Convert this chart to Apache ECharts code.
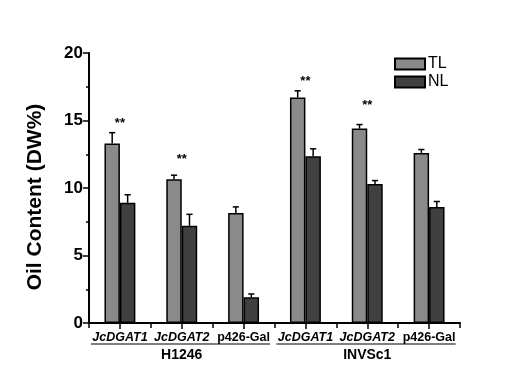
<!DOCTYPE html>
<html><head><meta charset="utf-8">
<script src="https://cdn.jsdelivr.net/npm/echarts@6/dist/echarts.min.js"></script>
<style>html,body{margin:0;padding:0;background:#fff}#c{width:505px;height:384px}</style>
</head><body><div id="c"></div>
<script>
var categories = ['JcDGAT1_a', 'JcDGAT2_a', 'p426-Gal_a', 'JcDGAT1_b', 'JcDGAT2_b', 'p426-Gal_b'];
var categoryLabels = ['JcDGAT1', 'JcDGAT2', 'p426-Gal', 'JcDGAT1', 'JcDGAT2', 'p426-Gal'];
var italicLabel = [true, true, false, true, true, false];
var strainGroups = ['H1246', 'INVSc1'];
var tlValues = [13.3, 10.65, 8.15, 16.7, 14.4, 12.6];
var tlErrors = [0.8, 0.3, 0.45, 0.5, 0.3, 0.25];
var nlValues = [8.9, 7.2, 1.9, 12.35, 10.3, 8.6];
var nlErrors = [0.6, 0.85, 0.25, 0.55, 0.25, 0.4];
var starPositions = [14.8, 12.15, null, 17.9, 16.1, null];
var yTicks = [0, 5, 10, 15, 20];

var FONT = 'Liberation Sans, Arial, sans-serif';
var chart = echarts.init(document.getElementById('c'), null, {renderer: 'canvas'});

function errorSeries(name, values, errors, side) {
  return {
    type: 'custom', name: name + '_err', silent: true, z: 5,
    data: values.map(function (v, i) { return [i, v, v + errors[i]]; }),
    renderItem: function (params, api) {
      var i = api.value(0);
      var band = api.size([1, 0])[0];
      var base = api.coord([i, api.value(1)]);
      var top = api.coord([i, api.value(2)]);
      var x = base[0] + side * band * 0.125;
      var cap = band * 0.05;
      return {
        type: 'group', children: [
          {type: 'line', shape: {x1: x, y1: base[1], x2: x, y2: top[1]}, style: {stroke: '#000', lineWidth: 1.5}},
          {type: 'line', shape: {x1: x - cap, y1: top[1], x2: x + cap, y2: top[1]}, style: {stroke: '#000', lineWidth: 1.5}}
        ]
      };
    }
  };
}

var option = {
  animation: false,
  backgroundColor: '#fff',
  grid: {left: 89, right: 45, top: 53, bottom: 61, containLabel: false},
  legend: {
    data: ['TL', 'NL'], orient: 'vertical', left: 394, top: 56, icon: 'rect', padding: 0,
    itemWidth: 30, itemHeight: 11, itemGap: 2,
    textStyle: {fontFamily: FONT, fontSize: 16, color: '#000', padding: [0, 0, 0, -2]}
  },
  xAxis: [{
    type: 'category', data: categories,
    axisLine: {lineStyle: {color: '#000', width: 2}},
    axisTick: {show: true, interval: 0, length: 5, lineStyle: {color: '#000', width: 1.5}},
    axisLabel: {
      interval: 0, margin: 8,
      formatter: function (v, i) {
        return italicLabel[i] ? '{it|' + categoryLabels[i] + '}' : '{rg|' + categoryLabels[i] + '}';
      },
      rich: {
        it: {fontFamily: FONT, fontSize: 12.5, fontWeight: 'bold', fontStyle: 'italic', color: '#000'},
        rg: {fontFamily: FONT, fontSize: 12.5, fontWeight: 'bold', color: '#000'}
      }
    }
  }, {
    type: 'category', data: categories, position: 'bottom',
    axisLine: {show: false},
    axisTick: {show: true, interval: 0, alignWithLabel: true, length: 6, lineStyle: {color: '#000', width: 1.5}},
    axisLabel: {show: false}
  }],
  yAxis: {
    type: 'value', min: 0, max: 20, interval: 5,
    name: 'Oil Content (DW%)', nameLocation: 'middle', nameGap: 43,
    nameTextStyle: {fontFamily: FONT, fontSize: 21, fontWeight: 'bold', color: '#000', padding: [0, 18, 0, 0]},
    axisLine: {show: true, lineStyle: {color: '#000', width: 2}},
    axisTick: {show: true, length: 6, lineStyle: {color: '#000', width: 1.5}},
    minorTick: {show: true, splitNumber: 2, length: 3, lineStyle: {color: '#000', width: 1.5}},
    splitLine: {show: false},
    axisLabel: {
      margin: 6, fontFamily: FONT, fontSize: 17, fontWeight: 'bold', color: '#000',
      formatter: function (v) { return yTicks.indexOf(v) >= 0 ? String(v) : ''; }
    }
  },
  series: [
    {name: 'TL', type: 'bar', data: tlValues, barWidth: '25%', barGap: '0%',
     itemStyle: {color: '#8a8a8a', borderColor: '#000', borderWidth: 1.5}},
    {name: 'NL', type: 'bar', data: nlValues, barWidth: '25%',
     itemStyle: {color: '#404040', borderColor: '#000', borderWidth: 1.5}},
    errorSeries('TL', tlValues, tlErrors, -1),
    errorSeries('NL', nlValues, nlErrors, 1),
    {
      type: 'custom', name: 'stars', silent: true, z: 6,
      data: starPositions.map(function (v, i) { return v == null ? [i, NaN] : [i, v]; }),
      renderItem: function (params, api) {
        if (isNaN(api.value(1))) return null;
        var p = api.coord([api.value(0), api.value(1)]);
        return {type: 'text', style: {x: p[0], y: p[1], text: '**', textAlign: 'center', textVerticalAlign: 'middle',
          font: 'bold 13px ' + FONT, fill: '#000'}};
      }
    }
  ]
};
chart.setOption(option);

// group labels with underlines, positioned through the axis scale
var graphics = [];
strainGroups.forEach(function (g, gi) {
  var first = gi * 3, last = gi * 3 + 2;
  var a = chart.convertToPixel({xAxisIndex: 0}, categories[first]);
  var b = chart.convertToPixel({xAxisIndex: 0}, categories[last]);
  var band = (b - a) / 2;
  var x1 = a - band * 0.47, x2 = b + band * 0.43;
  var yAxisPix = chart.convertToPixel({yAxisIndex: 0}, 0);
  graphics.push({type: 'line', shape: {x1: x1, y1: yAxisPix + 21, x2: x2, y2: yAxisPix + 21},
    style: {stroke: '#000', lineWidth: 1.2}});
  graphics.push({type: 'text', x: (a + b) / 2, y: yAxisPix + 32,
    style: {text: g, textAlign: 'center', textVerticalAlign: 'middle', font: 'bold 14px ' + FONT, fill: '#000'}});
});
chart.setOption({graphic: graphics});
</script>
</body></html>
